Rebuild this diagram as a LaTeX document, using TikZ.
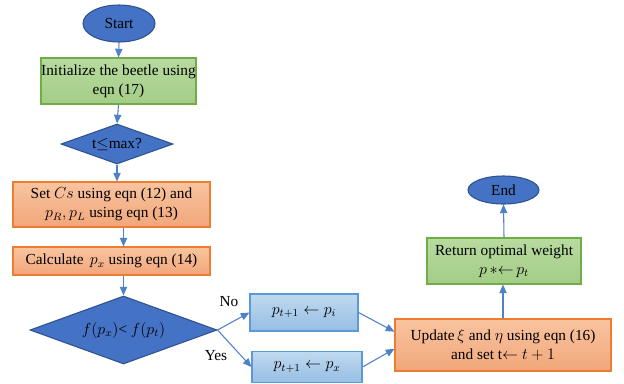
\documentclass[tikz,border=0pt]{standalone}
\usepackage{amsmath,amssymb}
\usepackage{fontspec}
\setmainfont{Liberation Serif}
\usetikzlibrary{shapes.geometric,arrows.meta}

\definecolor{shapeblue}{RGB}{68,114,196}
\definecolor{shapeedge}{RGB}{47,82,143}
\definecolor{greentop}{RGB}{184,219,160}
\definecolor{greenbot}{RGB}{163,205,134}
\definecolor{greenedge}{RGB}{112,173,71}
\definecolor{orangetop}{RGB}{248,196,160}
\definecolor{orangebot}{RGB}{242,166,122}
\definecolor{orangeedge}{RGB}{237,125,49}
\definecolor{bluetop}{RGB}{192,217,240}
\definecolor{bluebot}{RGB}{150,190,228}
\definecolor{blueedge}{RGB}{91,155,213}
\definecolor{arrowblue}{RGB}{79,129,201}

\begin{document}
\begin{tikzpicture}[x=0.75pt, y=-0.75pt,
    every node/.style={font=\fontsize{11.5}{14}\selectfont, align=center, inner sep=0pt},
    terminal/.style={ellipse, draw=shapeedge, fill=shapeblue, line width=0.8pt},
    decision/.style={diamond, draw=shapeedge, fill=shapeblue, line width=0.8pt},
    greenbox/.style={rectangle, draw=greenedge, top color=greentop, bottom color=greenbot, line width=0.8pt},
    orangebox/.style={rectangle, draw=orangeedge, top color=orangetop, bottom color=orangebot, line width=0.8pt},
    bluebox/.style={rectangle, draw=blueedge, top color=bluetop, bottom color=bluebot, line width=0.8pt},
    flow/.style={draw=arrowblue, line width=0.8pt, -{Triangle[length=6.5pt,width=5.5pt]}}]

    \useasboundingbox (0,0) rectangle (624,383);

    % Columna izquierda
    \node[terminal, minimum width=54pt, minimum height=27.75pt] (start) at (119,23.5) {Start};
    \node[greenbox, minimum width=116.25pt, minimum height=34.5pt] (init) at (118.5,81)
        {Initialize the beetle using\\eqn (17)};
    \node[decision, aspect=2.8, minimum width=84pt, minimum height=30pt] (tmax) at (117,144)
        {t$\le$max?};
    \node[orangebox, minimum width=147.75pt, minimum height=33.75pt] (setcs) at (111.5,204.5)
        {Set $Cs$ using eqn (12) and\\$p_R, p_L$ using eqn (13)};
    \node[orangebox, minimum width=147.75pt, minimum height=21pt] (calc) at (111.5,261)
        {Calculate \,$p_x$ using eqn (14)};
    \node[decision, aspect=2.75, minimum width=140.25pt, minimum height=51pt] (fcmp) at (123.5,330)
        {$f(p_x)$< $f(p_t)$};

    % Ramas
    \node[bluebox, minimum width=81pt, minimum height=27.75pt] (pnew) at (304,312.5)
        {$p_{t+1} \leftarrow p_i$};
    \node[bluebox, minimum width=82.5pt, minimum height=23.25pt] (pold) at (307,367)
        {$p_{t+1} \leftarrow p_x$};
    \node (nolbl) at (229,302) {No};
    \node (yeslbl) at (216,356) {Yes};

    % Columna derecha
    \node[orangebox, minimum width=162pt, minimum height=39pt] (upd) at (503,345)
        {Update\,$\xi$ and $\eta$ using eqn (16)\\and set t$\leftarrow$ $t+1$};
    \node[greenbox, minimum width=115.5pt, minimum height=34.5pt] (ret) at (504,261)
        {Return optimal weight\\$p\,{*}{\leftarrow}\,p_t$};
    \node[terminal, minimum width=53.25pt, minimum height=21pt] (end) at (503.5,190) {End};

    % Conectores
    \draw[flow] (start.south) -- (init.north);
    \draw[flow] (init.south) -- (tmax.north);
    \draw[flow] (tmax.south) -- (tmax.south |- setcs.north);
    \draw[flow] (setcs.south -| fcmp) -- (calc.north -| fcmp);
    \draw[flow] (calc.south -| fcmp) -- (fcmp.north);
    \draw[flow] (fcmp.east) -- (pnew.west);
    \draw[flow] (fcmp.east) -- (pold.west);
    \draw[flow] (pnew.east) -- (upd.173);
    \draw[flow] (pold.east) -- (upd.182);
    \draw[flow] (upd.north) -- (upd.north |- ret.south);
    \draw[flow] (ret.north) -- (end.south);
\end{tikzpicture}
\end{document}
